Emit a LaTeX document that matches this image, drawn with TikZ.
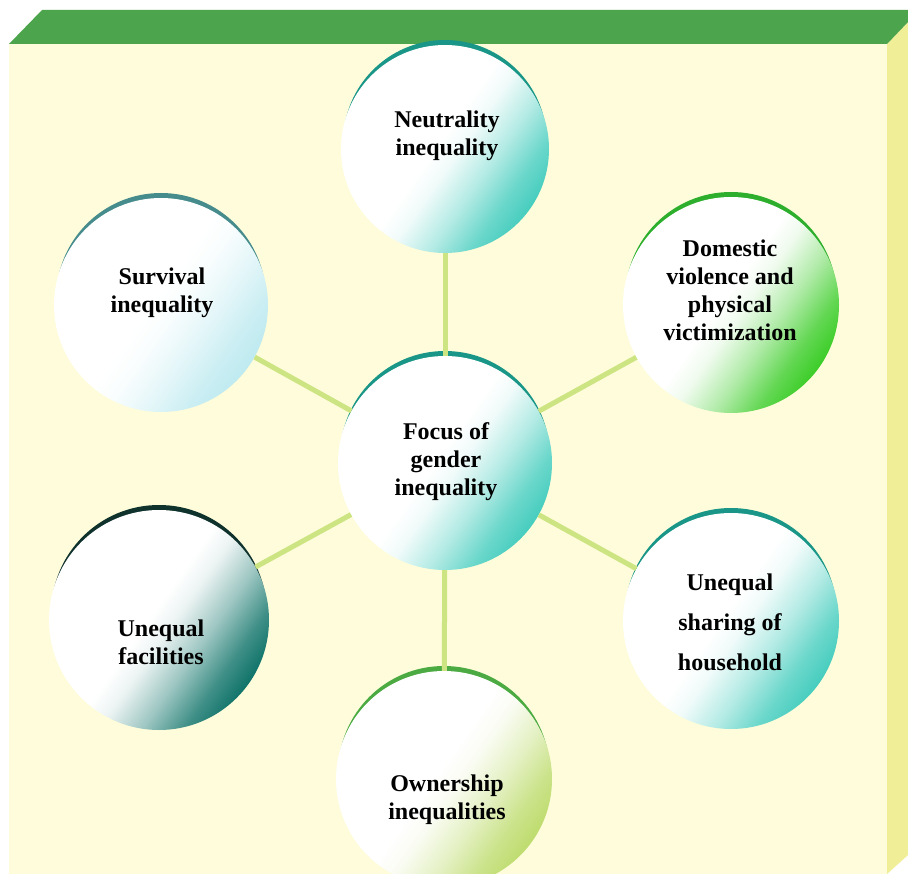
\documentclass[tikz,border=0pt]{standalone}
\usepackage{fontspec}
\setmainfont{Liberation Serif}
\definecolor{facec}{RGB}{254,252,218}
\definecolor{sidec}{RGB}{240,238,150}
\definecolor{stripc}{RGB}{76,164,76}
\definecolor{linkc}{RGB}{204,228,130}
\definecolor{tealf}{RGB}{70,205,190}
\definecolor{teala}{RGB}{25,150,135}
\definecolor{survf}{RGB}{190,234,240}
\definecolor{surva}{RGB}{70,140,140}
\definecolor{greenf}{RGB}{60,205,40}
\definecolor{greena}{RGB}{45,175,45}
\definecolor{darkf}{RGB}{15,115,105}
\definecolor{darka}{RGB}{15,50,45}
\definecolor{olivef}{RGB}{190,220,110}
\definecolor{olivea}{RGB}{75,170,65}
\colorlet{bubcol}{tealf}
\pgfdeclareverticalshading[bubcol]{bubble}{100bp}{color(0bp)=(bubcol); color(25bp)=(bubcol); color(31bp)=(bubcol!80!white); color(39bp)=(bubcol!40!white); color(47bp)=(bubcol!8!white); color(52bp)=(white); color(100bp)=(white)}
\tikzset{
  bub/.style={circle, inner sep=0pt, minimum size=2*#1, shading=bubble, shading angle=55},
  setcol/.code={\colorlet{bubcol}{#1}},
  link/.style={draw=linkc, line width=5pt},
  lbl/.style={font=\bfseries\fontsize{24}{28}\selectfont, align=center, inner sep=0pt, text=black},
}
\newcommand\rimarc[3]{\fill[#3] ([yshift=7.26pt]#1) circle[radius=#2-2.26];}
\begin{document}
\begin{tikzpicture}[x=1pt,y=-1pt]
\useasboundingbox (0,0) rectangle (908,874);
\clip (0,0) rectangle (908,874);
% box
\fill[white] (0,0) rectangle (908,874);
\fill[facec] (9,44) rectangle (887,874);
\fill[sidec] (887,44) -- (908,22) -- (908,855) -- (887,874) -- cycle;
\fill[stripc] (9,44) -- (42,10) -- (908,10) -- (908,22) -- (887,44) -- cycle;
% centres
\coordinate (p0) at (445,463);
\coordinate (p1) at (445,149);
\coordinate (p2) at (161,305);
\coordinate (p3) at (731,305);
\coordinate (p4) at (731,621);
\coordinate (p5) at (159,620);
\coordinate (p6) at (444,779);
% rim arcs
\rimarc{p0}{107}{teala}
\rimarc{p1}{104}{teala}
\rimarc{p2}{107}{surva}
\rimarc{p3}{108}{greena}
\rimarc{p4}{108}{teala}
\rimarc{p5}{110}{darka}
\rimarc{p6}{108}{olivea}
% circles
\node[bub=107, setcol=tealf] (c0) at (p0) {};
\node[bub=104, setcol=tealf] (c1) at (p1) {};
\node[bub=107, setcol=survf] (c2) at (p2) {};
\node[bub=108, setcol=greenf] (c3) at (p3) {};
\node[bub=108, setcol=tealf] (c4) at (p4) {};
\node[bub=110, setcol=darkf] (c5) at (p5) {};
\node[bub=108, setcol=olivef] (c6) at (p6) {};
% connectors
\draw[link] (c0) -- (c1);
\draw[link] (c0) -- (c2);
\draw[link] (c0) -- (c3);
\draw[link] (c0) -- (c4);
\draw[link] (c0) -- (c5);
\draw[link] (c0) -- (c6);
% labels
\node[lbl] (t0) at (446,462) {Focus of\\gender\\inequality};
\node[lbl] (t1) at (447,136) {Neutrality\\inequality};
\node[lbl] (t2) at (162,293) {Survival\\inequality};
\node[lbl] (t3) at (730,290) {Domestic\\violence and\\physical\\victimization};
\node[lbl, font=\bfseries\fontsize{24}{40}\selectfont] (t4) at (730,622) {Unequal\\sharing of\\household};
\node[lbl] (t5) at (161,642) {Unequal\\facilities};
\node[lbl] (t6) at (447,800) {Ownership\\inequalities};
\end{tikzpicture}
\end{document}
